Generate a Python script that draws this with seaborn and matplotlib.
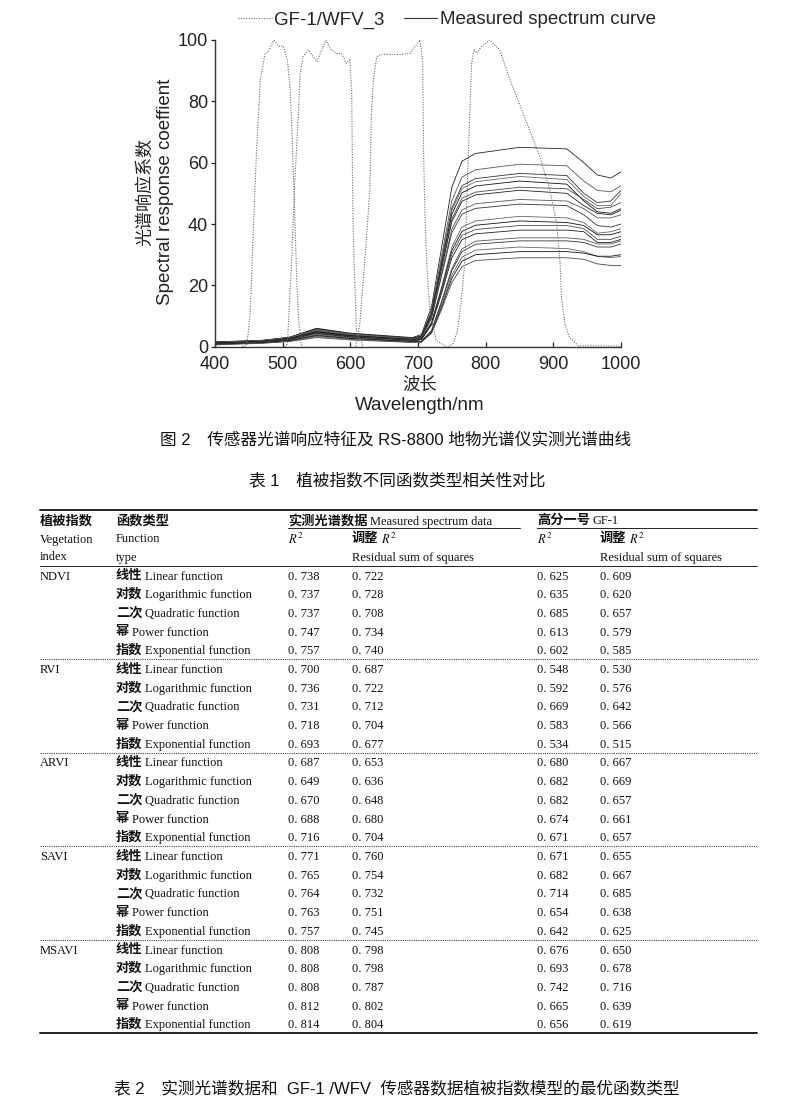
import numpy as np
import pandas as pd
import matplotlib
matplotlib.use("Agg")
import matplotlib.pyplot as plt
from matplotlib.lines import Line2D
import seaborn as sns

# --- DIMENSÕES (px) ---
W, H = 785, 1110

def fx(x):
    return x / W

def fy(y):
    return 1 - y / H

wl_grid = [400, 470, 510, 550, 600, 690, 705, 720, 735, 750, 765, 785, 850, 920, 945, 965, 985, 1000]
measured = [
    [1.6, 2.0, 3.0, 5.8, 4.2, 2.8, 4.0, 13.0, 32.5, 52.0, 60.5, 63.0, 65.0, 64.5, 60.0, 56.0, 55.0, 57.0],
    [1.4, 1.9, 2.8, 5.5, 4.0, 2.6, 3.6, 12.0, 29.8, 47.6, 55.3, 57.7, 59.5, 59.0, 54.0, 51.0, 50.5, 52.5],
    [1.2, 1.8, 2.7, 5.2, 3.8, 2.5, 3.4, 11.3, 28.2, 45.2, 52.5, 54.8, 56.5, 55.8, 50.0, 47.0, 47.5, 51.0],
    [1.0, 1.6, 2.5, 4.6, 3.4, 2.2, 3.3, 11.1, 27.8, 44.4, 51.6, 53.8, 55.5, 54.5, 49.0, 46.0, 46.0, 50.0],
    [1.5, 2.1, 3.1, 6.0, 4.4, 3.0, 3.2, 10.8, 27.0, 43.2, 50.2, 52.4, 54.0, 53.0, 47.5, 44.0, 43.5, 45.0],
    [1.3, 1.9, 2.9, 5.6, 4.1, 2.7, 3.1, 10.4, 26.0, 41.6, 48.4, 50.4, 52.0, 51.5, 48.0, 45.0, 45.5, 47.0],
    [0.9, 1.5, 2.3, 4.4, 3.2, 2.0, 3.1, 10.2, 25.5, 40.8, 47.4, 49.5, 51.0, 50.0, 46.0, 43.5, 43.0, 44.5],
    [1.1, 1.7, 2.6, 5.0, 3.7, 2.4, 2.9, 9.6, 24.0, 38.4, 44.6, 46.6, 48.0, 47.5, 45.0, 42.0, 42.0, 43.0],
    [1.0, 1.6, 2.4, 4.8, 3.5, 2.3, 2.8, 9.3, 23.3, 37.2, 43.2, 45.1, 46.5, 46.0, 43.0, 39.5, 39.0, 40.0],
    [1.4, 2.0, 3.0, 5.4, 4.0, 2.6, 2.6, 8.0, 19.5, 32.5, 39.0, 41.0, 42.5, 42.0, 40.5, 37.0, 37.5, 38.5],
    [1.2, 1.8, 2.7, 4.9, 3.6, 2.4, 2.5, 7.7, 18.9, 31.4, 37.6, 39.6, 41.0, 40.5, 39.5, 36.5, 36.5, 37.5],
    [0.8, 1.4, 2.1, 3.8, 2.8, 1.8, 2.4, 7.4, 18.2, 30.2, 36.3, 38.2, 39.5, 39.5, 38.5, 35.0, 35.0, 36.0],
    [1.0, 1.6, 2.4, 4.3, 3.2, 2.1, 2.3, 7.1, 17.5, 29.0, 34.9, 36.8, 38.0, 38.0, 37.5, 34.0, 34.0, 35.0],
    [0.9, 1.5, 2.2, 4.0, 3.0, 1.9, 1.8, 5.3, 14.9, 25.5, 31.9, 34.4, 35.5, 35.5, 35.0, 33.5, 33.5, 34.5],
    [1.1, 1.7, 2.5, 4.5, 3.4, 2.2, 1.7, 5.2, 14.5, 24.8, 31.0, 33.4, 34.5, 34.5, 34.0, 32.5, 32.5, 33.5],
    [0.7, 1.2, 1.8, 3.3, 2.4, 1.5, 1.6, 4.9, 13.7, 23.4, 29.2, 31.5, 32.5, 32.0, 31.0, 29.5, 29.0, 29.5],
    [0.8, 1.3, 2.0, 3.6, 2.7, 1.7, 1.6, 4.6, 13.0, 22.3, 27.9, 30.0, 31.0, 31.0, 30.5, 29.5, 29.5, 30.0],
    [0.6, 1.1, 1.7, 3.0, 2.2, 1.4, 1.5, 4.4, 12.2, 20.9, 26.1, 28.1, 29.0, 29.0, 28.5, 27.0, 26.5, 26.5],
]

# --- DADOS: resposta espectral GF-1/WFV_3 (4 bandas) ---
band1_wl = [440, 447, 452, 457, 461, 467, 474, 479, 487, 494, 501, 507, 511, 513, 517, 521, 524, 528]
band1_val = [0, 0.5, 10.7, 40, 62, 87, 95.6, 96.2, 100, 98, 98, 93.5, 84, 74, 49, 20.5, 7.5, 0]
band2_wl = [503, 507, 513, 518, 523, 526, 530, 538, 545, 551, 558, 564, 572, 580, 587, 594, 599, 602, 603, 604, 606, 609, 619]
band2_val = [0, 1, 27, 54, 75, 89, 94.6, 96.7, 94.6, 93, 97, 100, 96.7, 95.6, 95.6, 92.4, 93.5, 84, 60, 40, 25, 5, 0]
band3_wl = [608, 614, 624, 629, 631, 634, 639, 646, 673, 688, 703, 707, 708, 710, 713, 718, 727, 742]
band3_val = [0, 7.5, 35.7, 52, 75, 87, 94.6, 95.3, 95.3, 95.6, 100, 92.4, 66, 45.5, 27, 10.7, 2, 0]
band4_wl = [745, 752, 758, 764, 769, 774, 779, 783, 787, 794, 806, 821, 836, 850, 865, 880, 895, 905, 910, 912, 917, 924, 937, 1000]
band4_val = [0, 1, 5, 15, 27, 60, 92, 97, 95.6, 98, 100, 96.7, 87, 79, 70.6, 62, 51, 40, 27, 16, 7.5, 3, 0.3, 0.2]

# --- DADOS: tabela 1 ---
indices = ["NDVI", "RVI", "ARVI", "SAVI", "MSAVI"]
func_cn = ["线性", "对数", "二次", "幂", "指数"]
func_en = ["Linear function", "Logarithmic function", "Quadratic function",
           "Power function", "Exponential function"]
meas_r2 = [[0.738, 0.737, 0.737, 0.747, 0.757],
           [0.700, 0.736, 0.731, 0.718, 0.693],
           [0.687, 0.649, 0.670, 0.688, 0.716],
           [0.771, 0.765, 0.764, 0.763, 0.757],
           [0.808, 0.808, 0.808, 0.812, 0.814]]
meas_adj = [[0.722, 0.728, 0.708, 0.734, 0.740],
            [0.687, 0.722, 0.712, 0.704, 0.677],
            [0.653, 0.636, 0.648, 0.680, 0.704],
            [0.760, 0.754, 0.732, 0.751, 0.745],
            [0.798, 0.798, 0.787, 0.802, 0.804]]
gf_r2 = [[0.625, 0.635, 0.685, 0.613, 0.602],
         [0.548, 0.592, 0.669, 0.583, 0.534],
         [0.680, 0.682, 0.682, 0.674, 0.671],
         [0.671, 0.682, 0.714, 0.654, 0.642],
         [0.676, 0.693, 0.742, 0.665, 0.656]]
gf_adj = [[0.609, 0.620, 0.657, 0.579, 0.585],
          [0.530, 0.576, 0.642, 0.566, 0.515],
          [0.667, 0.669, 0.657, 0.661, 0.657],
          [0.655, 0.667, 0.685, 0.638, 0.625],
          [0.650, 0.678, 0.716, 0.639, 0.619]]

# --- ESTILO ---
sns.set_style("white")
plt.rcParams["font.family"] = ["Liberation Sans", "Noto Sans CJK SC"]
plt.rcParams["mathtext.fontset"] = "stix"

SANS = ["Liberation Sans", "Noto Sans CJK SC"]
CJK = ["Noto Sans CJK SC"]
SERIF = ["Liberation Serif"]

fig = plt.figure(figsize=(W / 100, H / 100), dpi=100)

# --- GRÁFICO ---
rows = []
for i, vals in enumerate(measured):
    for w, v in zip(wl_grid, vals):
        rows.append({"curve": i, "wl": w, "val": v})
df_meas = pd.DataFrame(rows)

band_rows = []
for b, (bw, bv) in enumerate([(band1_wl, band1_val), (band2_wl, band2_val),
                              (band3_wl, band3_val), (band4_wl, band4_val)]):
    for w, v in zip(bw, bv):
        band_rows.append({"band": b, "wl": w, "val": v})
df_band = pd.DataFrame(band_rows)

ax = fig.add_axes([fx(215), fy(346.7), fx(621) - fx(215), fy(40) - fy(346.7)])

grays = ["#222222", "#555555", "#333333", "#666666", "#111111", "#4a4a4a"]
palette = [grays[i % len(grays)] for i in range(len(measured))]
sns.lineplot(data=df_meas, x="wl", y="val", hue="curve", palette=palette,
             estimator=None, legend=False, lw=0.6, ax=ax)
sns.lineplot(data=df_band, x="wl", y="val", units="band", estimator=None,
             color="#6a6a6a", lw=0.8, linestyle=(0, (1, 1.3)), legend=False,
             ax=ax, sort=False)

ax.set_xlim(400, 1000)
ax.set_ylim(0, 100)
ax.set_xticks(range(400, 1001, 100))
ax.set_yticks(range(0, 101, 20))
ax.set_xlabel("")
ax.set_ylabel("")
for s in ["top", "right"]:
    ax.spines[s].set_visible(False)
for s in ["left", "bottom"]:
    ax.spines[s].set_color("#333333")
    ax.spines[s].set_linewidth(1.0)
ax.tick_params(axis="x", direction="in", length=3.5, width=0.9, pad=7,
               labelsize=13, colors="#222222")
ax.tick_params(axis="y", direction="out", length=3, width=0.9, pad=2,
               labelsize=13, colors="#222222")
ax.tick_params(axis="x", bottom=True)
ax.tick_params(axis="y", left=True)
ax.patch.set_alpha(0)

handles = [Line2D([], [], color="#6a6a6a", lw=0.8, ls=(0, (1, 1.3))),
           Line2D([], [], color="#333333", lw=0.8)]
fig.legend(handles, ["GF-1/WFV_3", "Measured spectrum curve"], loc="center",
           bbox_to_anchor=(fx(447), fy(20)), ncol=2, frameon=False,
           fontsize=13.5, handlelength=1.8, handletextpad=0.15,
           columnspacing=1.0, borderpad=0)

fig.text(fx(145), fy(192), "光谱响应系数", family=CJK, fontsize=13,
         rotation=90, ha="center", va="center", color="#222222")
fig.text(fx(166), fy(192), "Spectral response coeffient", family=SANS,
         fontsize=13.5, rotation=90, ha="center", va="center", color="#222222")
fig.text(fx(420), fy(385), "波长", family=CJK, fontsize=12.5,
         ha="center", va="center", color="#222222")
fig.text(fx(420), fy(406), "Wavelength/nm", family=SANS, fontsize=13.5,
         ha="center", va="center", color="#222222")

# --- LEGENDAS DE FIGURA/TABELA ---
fig.text(fx(396), fy(440), "图 2\u3000传感器光谱响应特征及 RS-8800 地物光谱仪实测光谱曲线",
         family=SANS, fontsize=12, ha="center", va="center", color="#111111")
fig.text(fx(397), fy(480), "表 1\u3000植被指数不同函数类型相关性对比",
         family=SANS, fontsize=12, ha="center", va="center", color="#111111")
fig.text(fx(397), fy(1088), "表 2\u3000实测光谱数据和  GF-1 /WFV  传感器数据植被指数模型的最优函数类型",
         family=SANS, fontsize=12, ha="center", va="center", color="#111111")

# --- TABELA ---
axt = fig.add_axes([0, 0, 1, 1], zorder=-1)
axt.set_xlim(0, W)
axt.set_ylim(H, 0)
axt.axis("off")

FS = 9
FS_CN = 9.5
CH = 13.2  # largura de um caractere CJK (px)
C1, C2, C3, C4, C5, C6 = 40, 116, 288, 352, 537, 600
L, R = 40, 757


def cn(x, y, s):
    # CJK fica um pouco abaixo do serif com center_baseline
    axt.text(x, y - 1.2, s, family=CJK, fontsize=FS_CN, fontweight="bold",
             ha="left", va="center_baseline", color="#111111")


def en(x, y, s):
    axt.text(x, y, s, family=SERIF, fontsize=FS, ha="left",
             va="center_baseline", color="#111111")


def num(v):
    return f"{v:.3f}".replace(".", ". ")


axt.plot([L, R], [510, 510], color="#222222", lw=1.4)
axt.plot([C3, 520], [528, 528], color="#222222", lw=0.7)
axt.plot([C5, R], [528, 528], color="#222222", lw=0.7)
axt.plot([L, R], [566, 566], color="#222222", lw=0.7)
axt.plot([L, R], [1033, 1033], color="#222222", lw=1.4)

cn(C1, 520, "植被指数")
cn(C2, 520, "函数类型")
cn(C3, 520, "实测光谱数据")
en(C3 + 6 * CH + 3, 520, "Measured spectrum data")
cn(C5, 520, "高分一号")
en(C5 + 4 * CH + 3, 520, "GF-1")
en(C1, 538, "Vegetation")
en(C2, 538, "Function")
en(C3, 538, "$R^2$")
cn(C4, 538, "调整")
en(C4 + 2 * CH + 3, 538, "$R^2$")
en(C5, 538, "$R^2$")
cn(C6, 538, "调整")
en(C6 + 2 * CH + 3, 538, "$R^2$")
en(C1, 556, "index")
en(C2, 556, "type")
en(C4, 556, "Residual sum of squares")
en(C6, 556, "Residual sum of squares")

y0, dy = 575, 18.7
for g, name in enumerate(indices):
    for k in range(5):
        y = y0 + (g * 5 + k) * dy
        if k == 0:
            en(C1, y, name)
        cn(C2, y, func_cn[k])
        en(C2 + len(func_cn[k]) * CH + 3, y, func_en[k])
        en(C3, y, num(meas_r2[g][k]))
        en(C4, y, num(meas_adj[g][k]))
        en(C5, y, num(gf_r2[g][k]))
        en(C6, y, num(gf_adj[g][k]))
    if g < len(indices) - 1:
        ys = y0 + (g * 5 + 4) * dy + dy / 2
        axt.plot([L, R], [ys, ys], color="#444444", lw=0.8, ls=(0, (1, 1)))

fig.savefig("out.png", dpi=100)
